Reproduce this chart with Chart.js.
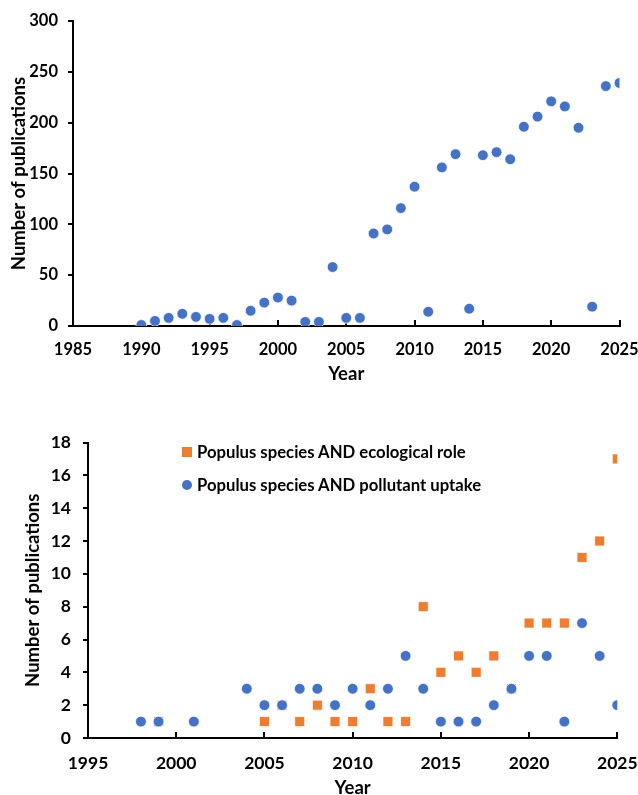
<!DOCTYPE html>
<html>
<head>
<meta charset="utf-8">
<script src="https://cdn.jsdelivr.net/npm/chart.js@4.4.1/dist/chart.umd.min.js"></script>
<style>
  body { margin: 0; background: #fff; width: 638px; height: 795px; position: relative; overflow: hidden; font-family: Lato, sans-serif; }
  #topBox { position: absolute; left: 0; top: 0; width: 638px; height: 392px; }
  #bottomBox { position: absolute; left: 0; top: 420px; width: 638px; height: 380px; }
  #legend { position: absolute; left: 182px; top: 436px; font: bold 16.7px Lato, sans-serif; color: #000; }
  #legend .row { height: 32.5px; display: flex; align-items: center; white-space: nowrap; }
  #legend .mark { width: 10px; height: 10px; margin-right: 5px; flex: none; }
</style>
</head>
<body>
<div id="topBox"><canvas id="totalChart"></canvas></div>
<div id="bottomBox"><canvas id="topicChart"></canvas></div>
<div id="legend"></div>
<script>
// data
const totalYears = [1990, 1991, 1992, 1993, 1994, 1995, 1996, 1997, 1998, 1999, 2000, 2001, 2002, 2003, 2004, 2005, 2006, 2007,
  2008, 2009, 2010, 2011, 2012, 2013, 2014, 2015, 2016, 2017, 2018, 2019, 2020, 2021, 2022, 2023, 2024, 2025];
const totalCounts = [1, 5, 8, 12, 9, 7, 8, 1, 15, 23, 28, 25, 4, 4, 58, 8, 8, 91,
  95, 116, 137, 14, 156, 169, 17, 168, 171, 164, 196, 206, 221, 216, 195, 19, 236, 239];

const ecoYears = [1999, 2005, 2006, 2007, 2008, 2009, 2010, 2011, 2012, 2013, 2014, 2015, 2016, 2017, 2018, 2019, 2020, 2021, 2022, 2023, 2024, 2025];
const ecoCounts = [1, 1, 2, 1, 2, 1, 1, 3, 1, 1, 8, 4, 5, 4, 5, 3, 7, 7, 7, 11, 12, 17];

const polYears = [1998, 1999, 2001, 2004, 2005, 2006, 2007, 2008, 2009, 2010, 2011, 2012, 2013, 2014, 2015, 2016, 2017, 2018, 2019, 2020, 2021, 2022, 2023, 2024, 2025];
const polCounts = [1, 1, 1, 3, 2, 2, 3, 3, 2, 3, 2, 3, 5, 3, 1, 1, 1, 2, 3, 5, 5, 1, 7, 5, 2];

const seriesLabels = ['Populus species AND ecological role', 'Populus species AND pollutant uptake'];
const xTitle = 'Year';
const yTitle = 'Number of publications';

const BLUE = '#4472C4';
const ORANGE = '#ED7D31';

function pts(xs, ys) {
  return xs.map((x, i) => ({ x: x, y: ys[i] }));
}

function axes(o) {
  return {
    x: {
      type: 'linear', min: o.xmin, max: 2025,
      ticks: { stepSize: 5, color: '#000', padding: o.xpad, font: { family: 'Lato', weight: 'bold', size: o.tick }, callback: v => String(v) },
      grid: { drawOnChartArea: false, drawTicks: true, tickLength: -6, color: '#000', lineWidth: 2 },
      border: { color: '#000', width: 2 },
      title: { display: true, text: xTitle, color: '#000', font: { family: 'Lato', weight: 'bold', size: o.title }, padding: { top: 0, bottom: o.xtitlePad } },
      afterFit: s => { s.height = o.xh; s.paddingLeft = 0; s.paddingRight = o.pr; }
    },
    y: {
      min: 0, max: o.ymax,
      ticks: { stepSize: o.ystep, color: '#000', padding: o.ypad, font: { family: 'Lato', weight: 'bold', size: o.tick } },
      grid: { drawOnChartArea: false, drawTicks: true, tickLength: 5, color: '#000', lineWidth: 2 },
      border: { color: '#000', width: 2 },
      title: { display: true, text: yTitle, color: '#000', font: { family: 'Lato', weight: 'bold', size: o.title }, padding: { top: o.ytitlePad, bottom: 0 } },
      afterFit: s => { s.width = o.yw; }
    }
  };
}

new Chart(document.getElementById('totalChart'), {
  type: 'scatter',
  data: {
    datasets: [{
      label: 'Total',
      data: pts(totalYears, totalCounts),
      backgroundColor: BLUE,
      borderColor: '#fff',
      borderWidth: 0.8,
      pointRadius: 5.4,
      pointHoverRadius: 5.4
    }]
  },
  options: {
    responsive: true,
    maintainAspectRatio: false,
    animation: false,
    layout: { padding: { left: 0, right: 0, top: 21, bottom: 0 } },
    plugins: { legend: { display: false }, tooltip: { enabled: false } },
    scales: axes({ xmin: 1985, ymax: 300, ystep: 50, tick: 16.5, title: 18.5, xh: 66, yw: 73, pr: 18.5, xpad: 19.5, ypad: 10, xtitlePad: 6.9, ytitlePad: 8.4 })
  }
});

const topicChart = new Chart(document.getElementById('topicChart'), {
  type: 'scatter',
  data: {
    datasets: [{
      label: seriesLabels[0],
      data: pts(ecoYears, ecoCounts),
      pointStyle: 'rect',
      backgroundColor: ORANGE,
      borderColor: '#fff',
      borderWidth: 0.8,
      pointRadius: 7.1,
      pointHoverRadius: 7.1,
      order: 1
    }, {
      label: seriesLabels[1],
      data: pts(polYears, polCounts),
      pointStyle: 'circle',
      backgroundColor: BLUE,
      borderColor: '#fff',
      borderWidth: 0.8,
      pointRadius: 5.4,
      pointHoverRadius: 5.4,
      order: 0
    }]
  },
  options: {
    responsive: true,
    maintainAspectRatio: false,
    animation: false,
    layout: { padding: { left: 0, right: 0, top: 14, bottom: 0 } },
    plugins: { legend: { display: false }, tooltip: { enabled: false } },
    scales: axes({ xmin: 1995, ymax: 18, ystep: 2, tick: 17.5, title: 18.5, xh: 62, yw: 88, pr: 20.7, xpad: 20.5, ypad: 12, xtitlePad: 0.9, ytitlePad: 22.2 })
  }
});

// legend built from the datasets
const legendEl = document.getElementById('legend');
topicChart.data.datasets.forEach(ds => {
  const row = document.createElement('div');
  row.className = 'row';
  const mark = document.createElement('span');
  mark.className = 'mark';
  mark.style.background = ds.backgroundColor;
  if (ds.pointStyle === 'circle') mark.style.borderRadius = '50%';
  const txt = document.createElement('span');
  txt.textContent = ds.label;
  row.appendChild(mark);
  row.appendChild(txt);
  legendEl.appendChild(row);
});
</script>
</body>
</html>
